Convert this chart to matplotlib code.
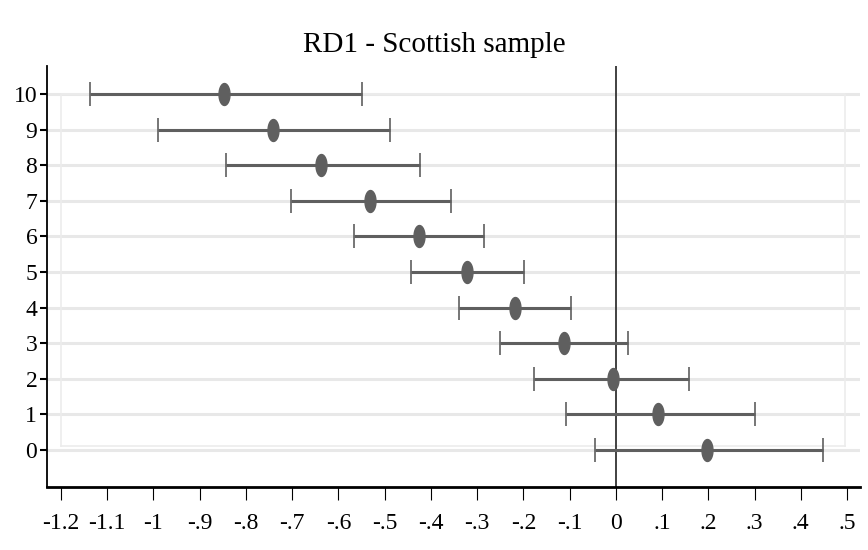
import numpy as np
import matplotlib
matplotlib.use("Agg")
import matplotlib.pyplot as plt
from matplotlib.path import Path

# coefficient plot values
rows = [10, 9, 8, 7, 6, 5, 4, 3, 2, 1, 0]
coef = [-0.848, -0.742, -0.638, -0.532, -0.426, -0.322, -0.218, -0.112, -0.006, 0.091, 0.197]
ci_lo = [-1.137, -0.990, -0.843, -0.703, -0.566, -0.443, -0.339, -0.251, -0.177, -0.108, -0.045]
ci_hi = [-0.549, -0.489, -0.424, -0.357, -0.285, -0.199, -0.097, 0.026, 0.158, 0.301, 0.448]
xticks = [-1.2, -1.1, -1, -0.9, -0.8, -0.7, -0.6, -0.5, -0.4, -0.3, -0.2, -0.1, 0, 0.1, 0.2, 0.3, 0.4, 0.5]
xlabels = ["-1.2", "-1.1", "-1", "-.9", "-.8", "-.7", "-.6", "-.5", "-.4", "-.3", "-.2", "-.1", "0", ".1", ".2", ".3", ".4", ".5"]

plt.rcParams["font.family"] = ["Liberation Serif", "DejaVu Serif"]

fig = plt.figure(figsize=(8.68, 5.5), dpi=100)
ax = fig.add_axes([47 / 868, 63 / 550, 813 / 868, 421 / 550])

gray = "#5f5f5f"
for r in rows:
    ax.axhline(r, color="#e8e8e8", lw=2.2, zorder=0)
# light inner plot region box (stata style)
ax.plot([-1.2, -1.2, 0.495, 0.495], [0.1, 10, 10, 0.1], color="#ececec", lw=1.2, zorder=0)
ax.plot([-1.2, 0.495], [0.1, 0.1], color="#ececec", lw=1.2, zorder=0)
ax.axvline(0, color="#333333", lw=1.3, zorder=1)

x = np.array(coef)
ax.errorbar(x, rows, xerr=[x - np.array(ci_lo), np.array(ci_hi) - x], fmt="none",
            ecolor=gray, elinewidth=2.2, capsize=8.3, capthick=1.2, zorder=2)
t = np.linspace(0, 2 * np.pi, 80)
ell = Path(np.column_stack([0.5 * np.cos(t), np.sin(t)]), closed=True)
ax.plot(x, rows, linestyle="none", marker=ell, markersize=15.8, color=gray, zorder=3)

ax.set_xlim(-1.230, 0.528)
ax.set_ylim(-1.04, 10.79)
ax.set_yticks(rows)
ax.set_yticklabels([str(r) for r in rows])
ax.set_xticks(xticks)
ax.set_xticklabels(xlabels)
for s in ["top", "right"]:
    ax.spines[s].set_visible(False)
ax.spines["left"].set_linewidth(1.3)
ax.spines["bottom"].set_linewidth(2.0)
ax.tick_params(axis="y", length=5, width=1.5, labelsize=17, pad=2)
ax.tick_params(axis="x", length=9, width=0.8, labelsize=17, pad=10)
fig.text(0.5, 1 - 52 / 550, "RD1 - Scottish sample", fontsize=21, ha="center", va="baseline")

fig.savefig("out.png", dpi=100)
